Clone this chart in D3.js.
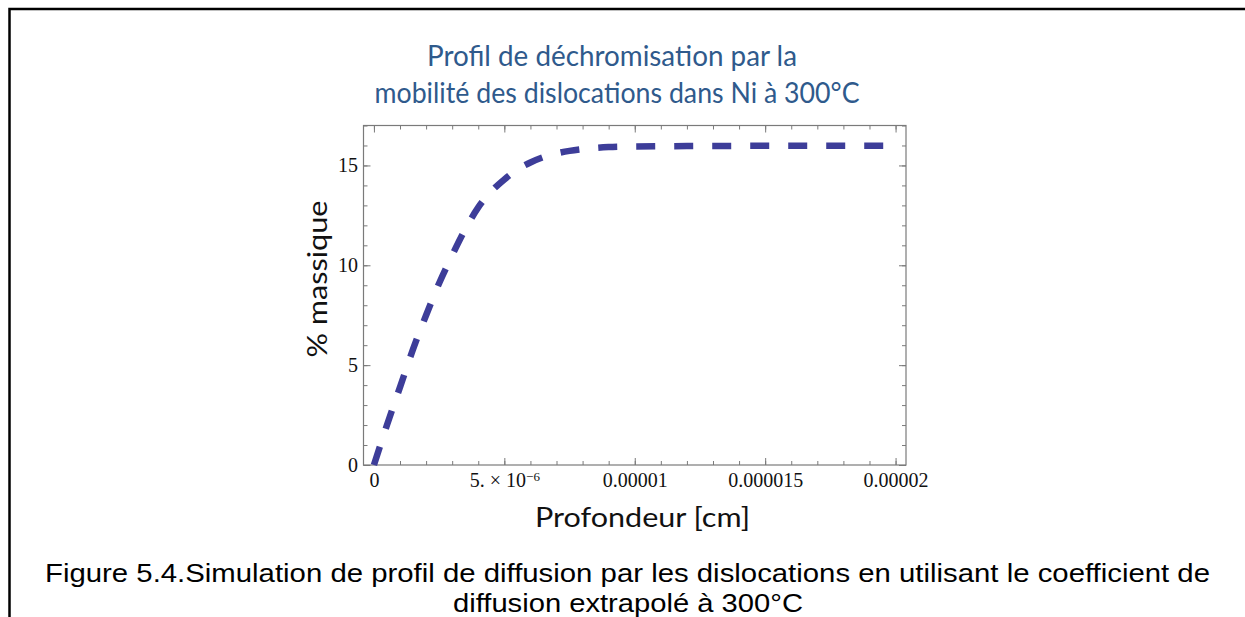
<!DOCTYPE html>
<html>
<head>
<meta charset="utf-8">
<script src="https://cdn.jsdelivr.net/npm/d3@7/dist/d3.min.js"></script>
<style>
  html, body { margin: 0; padding: 0; background: #fff; }
  svg { display: block; }
</style>
</head>
<body>
<svg id="chart" width="1245" height="617"></svg>
<script>
// ---- Data (depth in units of 1e-6 cm, concentration in % massique) ----
const depthMicro = [0, 0.5, 1, 1.5, 2, 2.5, 3, 3.5, 4, 4.5, 5, 5.5, 6, 6.5, 7, 7.5, 8, 9, 10, 12, 14, 16, 18, 20];
const massPct    = [0, 2.0, 3.9, 5.8, 7.5, 9.1, 10.5, 11.8, 12.9, 13.7, 14.3, 14.8, 15.15, 15.42, 15.6, 15.73, 15.82, 15.92, 15.95, 15.97, 15.98, 15.98, 15.98, 15.98];
const xMajorTicks = [0, 5e-6, 1e-5, 1.5e-5, 2e-5];
const xTickLabels = ["0", "5. × 10", "0.00001", "0.000015", "0.00002"];
const yMajorTicks = [0, 5, 10, 15];
const yTickLabels = ["0", "5", "10", "15"];
const titleLines = ["Profil de déchromisation par la", "mobilité des dislocations dans Ni à 300°C"];
const xLabel = "Profondeur [cm]";
const yLabel = "% massique";
const captionLines = [
  "Figure 5.4.Simulation de profil de diffusion par les dislocations en utilisant le coefficient de",
  "diffusion extrapolé à 300°C"
];

const data = depthMicro.map((d, i) => ({ x: d * 1e-6, y: massPct[i] }));

const svg = d3.select("#chart");
const L = 363.5, R = 906, T = 125.5, B = 465;

const x = d3.scaleLinear().domain([-0.4e-6, 20.4e-6]).range([L, R]);
const y = d3.scaleLinear().domain([0, 17]).range([B, T]);

// outer page frame
svg.append("path")
  .attr("d", "M9.5,617 V9 H1245")
  .attr("fill", "none").attr("stroke", "#000").attr("stroke-width", 2.5);

// title
const title = svg.append("g").attr("font-family", "Lato, 'Open Sans', sans-serif")
  .attr("font-size", 28).attr("fill", "#2f5a8c").attr("text-anchor", "middle");
title.append("text").attr("x", 612).attr("y", 66).attr("textLength", 370)
  .attr("lengthAdjust", "spacingAndGlyphs").text(titleLines[0]);
title.append("text").attr("x", 617).attr("y", 103).attr("textLength", 485)
  .attr("lengthAdjust", "spacingAndGlyphs").text(titleLines[1]);

const frameColor = "#7a7a7a";

// minor ticks
const xMinor = d3.range(0, 21).map(v => v * 1e-6);
const yMinor = d3.range(0, 18);

function styleAxis(g) {
  g.select(".domain").remove();
  g.selectAll(".tick line").attr("stroke", frameColor).attr("stroke-width", 1);
}

svg.append("g").attr("transform", `translate(0,${B})`)
  .call(d3.axisBottom(x).tickValues(xMinor).tickSize(-4).tickFormat("")).call(styleAxis);
svg.append("g").attr("transform", `translate(0,${T})`)
  .call(d3.axisTop(x).tickValues(xMinor).tickSize(-4).tickFormat("")).call(styleAxis);
svg.append("g").attr("transform", `translate(${L},0)`)
  .call(d3.axisLeft(y).tickValues(yMinor).tickSize(-4).tickFormat("")).call(styleAxis);
svg.append("g").attr("transform", `translate(${R},0)`)
  .call(d3.axisRight(y).tickValues(yMinor).tickSize(-4).tickFormat("")).call(styleAxis);

// major ticks + labels
const tickFont = "'Liberation Serif', 'Times New Roman', serif";
const xAxisG = svg.append("g").attr("transform", `translate(0,${B})`)
  .call(d3.axisBottom(x).tickValues(xMajorTicks).tickSize(-7).tickPadding(8)
    .tickFormat((d, i) => xTickLabels[i]))
  .call(styleAxis);
xAxisG.selectAll("text").attr("font-family", tickFont).attr("font-size", 20).attr("fill", "#111");
xAxisG.selectAll(".tick text").filter((d, i) => i === 1).each(function () {
  const t = d3.select(this);
  const base = t.text();
  t.text(null);
  t.append("tspan").text(base);
  t.append("tspan").attr("dy", "-0.45em").attr("font-size", 13).text("−6");
});

svg.append("g").attr("transform", `translate(0,${T})`)
  .call(d3.axisTop(x).tickValues(xMajorTicks).tickSize(-7).tickFormat("")).call(styleAxis);

const yAxisG = svg.append("g").attr("transform", `translate(${L},0)`)
  .call(d3.axisLeft(y).tickValues(yMajorTicks).tickSize(-7).tickPadding(5.5)
    .tickFormat((d, i) => yTickLabels[i]))
  .call(styleAxis);
yAxisG.selectAll("text").attr("font-family", tickFont).attr("font-size", 20).attr("fill", "#111");

svg.append("g").attr("transform", `translate(${R},0)`)
  .call(d3.axisRight(y).tickValues(yMajorTicks).tickSize(-7).tickFormat("")).call(styleAxis);

// plot frame
svg.append("rect").attr("x", L).attr("y", T).attr("width", R - L).attr("height", B - T)
  .attr("fill", "none").attr("stroke", frameColor).attr("stroke-width", 1.2);

// curve
const line = d3.line().x(d => x(d.x)).y(d => y(d.y)).curve(d3.curveMonotoneX);
svg.append("path").datum(data)
  .attr("d", line)
  .attr("fill", "none")
  .attr("stroke", "#3d3d99")
  .attr("stroke-width", 6.5)
  .attr("stroke-dasharray", "19 19")
  .attr("stroke-linecap", "butt")
  .attr("stroke-linejoin", "round");

// axis labels
const labFont = "Lato, 'Open Sans', sans-serif";
svg.append("text").attr("x", 642.5).attr("y", 527).attr("text-anchor", "middle")
  .attr("font-family", labFont).attr("font-size", 27).attr("fill", "#111")
  .attr("textLength", 215).attr("lengthAdjust", "spacingAndGlyphs").text(xLabel);
svg.append("text").attr("transform", "translate(327,279) rotate(-90)").attr("text-anchor", "middle")
  .attr("font-family", labFont).attr("font-size", 27).attr("fill", "#111")
  .attr("textLength", 157).attr("lengthAdjust", "spacingAndGlyphs").text(yLabel);

// caption
const cap = svg.append("g").attr("font-family", "'Liberation Sans', Arial, sans-serif")
  .attr("font-size", 26).attr("fill", "#000").attr("text-anchor", "middle");
cap.append("text").attr("x", 627.5).attr("y", 582).attr("textLength", 1165)
  .attr("lengthAdjust", "spacingAndGlyphs").text(captionLines[0]);
cap.append("text").attr("x", 628).attr("y", 612).attr("textLength", 350)
  .attr("lengthAdjust", "spacingAndGlyphs").text(captionLines[1]);
</script>
</body>
</html>
